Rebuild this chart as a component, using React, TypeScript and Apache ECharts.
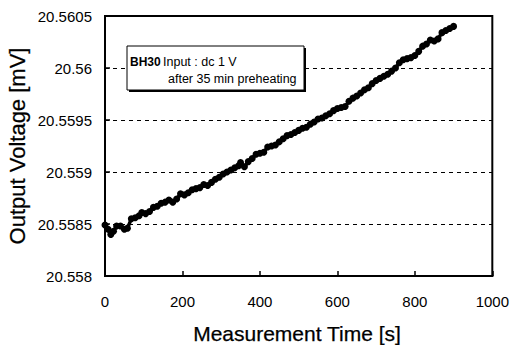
import React, { useEffect, useRef } from "react";
import * as echarts from "echarts";

const timeS: number[] = [
  0, 8, 15, 22, 30, 40, 50, 58, 68, 78, 88, 95, 105, 115, 125, 135, 145, 155, 165, 175,
  185, 195, 205, 215, 225, 235, 245, 255, 265, 275, 285, 295, 305, 315, 325, 335, 345, 350,
  360, 370, 380, 390, 400, 410, 420, 430, 440, 450, 460, 470, 480, 490, 500, 510, 520, 530,
  540, 550, 560, 570, 580, 590, 600, 610, 620, 630, 640, 650, 660, 670, 680, 690, 700, 710,
  720, 730, 740, 750, 760, 770, 780, 790, 800, 810, 820, 830, 840, 850, 860, 870, 880, 890, 900,
];

const voltageMV: number[] = [
  20.55849, 20.55845, 20.5584, 20.55843, 20.55848, 20.55848, 20.55845, 20.55846, 20.55855,
  20.55856, 20.55858, 20.55861, 20.5586, 20.55862, 20.55866, 20.55867, 20.5587, 20.55871,
  20.55873, 20.55871, 20.55874, 20.55879, 20.55878, 20.5588, 20.55883, 20.55884, 20.55885,
  20.55888, 20.55887, 20.5589, 20.55893, 20.55895, 20.55898, 20.559, 20.55902, 20.55904,
  20.55906, 20.55909, 20.55905, 20.5591, 20.55913, 20.55917, 20.55918, 20.55919, 20.55924,
  20.55925, 20.55926, 20.55929, 20.55932, 20.55935, 20.55936, 20.55938, 20.5594, 20.55942,
  20.55943, 20.55946, 20.55948, 20.55951, 20.55952, 20.55954, 20.55956, 20.55959, 20.55961,
  20.55962, 20.55963, 20.55968, 20.55971, 20.55973, 20.55976, 20.55979, 20.55981, 20.55985,
  20.55988, 20.5599, 20.55992, 20.55994, 20.55997, 20.56, 20.56005, 20.56008, 20.56009,
  20.5601, 20.56012, 20.56016, 20.56021, 20.56023, 20.56027, 20.56026, 20.56028, 20.56034,
  20.56036, 20.56038, 20.5604,
];

const xTitle = "Measurement Time [s]";
const yTitle = "Output Voltage [mV]";
const noteTag = "BH30";
const noteLine1 = "Input : dc 1 V";
const noteLine2 = "after 35 min preheating";

const FONT = "'Liberation Sans', Arial, sans-serif";

export default function App() {
  const ref = useRef<HTMLDivElement>(null);
  useEffect(() => {
    if (!ref.current) return;
    const chart = echarts.init(ref.current, undefined, { renderer: "svg" });
    const data = timeS.map((t, i) => [t, voltageMV[i]]);
    chart.setOption({
      animation: false,
      backgroundColor: "#fff",
      textStyle: { fontFamily: FONT },
      grid: {
        left: 105,
        right: 18,
        top: 16,
        bottom: 69,
        show: true,
        borderColor: "#000",
        borderWidth: 2,
        backgroundColor: "transparent",
      },
      xAxis: {
        type: "value",
        min: 0,
        max: 1000,
        interval: 200,
        axisLine: { show: true, lineStyle: { color: "#000", width: 2 } },
        axisTick: { show: true, inside: true, length: 5, lineStyle: { color: "#000", width: 1.5 } },
        axisLabel: {
          color: "#000",
          fontSize: 15,
          fontFamily: FONT,
          margin: 18,
          formatter: (v: number) => String(v),
        },
        splitLine: { show: false },
      },
      yAxis: {
        type: "value",
        min: 20.558,
        max: 20.5605,
        interval: 0.0005,
        axisLine: { show: true, lineStyle: { color: "#000", width: 2 } },
        axisTick: { show: true, inside: true, length: 5, lineStyle: { color: "#000", width: 1.5 } },
        axisLabel: {
          color: "#000",
          fontSize: 15,
          fontFamily: FONT,
          margin: 13,
          formatter: (v: number) => String(parseFloat(v.toFixed(4))),
        },
        splitLine: { show: true, lineStyle: { color: "#000", width: 1, type: [4, 4] } },
      },
      series: [
        {
          type: "line",
          data,
          symbol: "circle",
          symbolSize: 7,
          showSymbol: true,
          itemStyle: { color: "#000" },
          lineStyle: { color: "#000", width: 3.5 },
        },
      ],
      graphic: [
        {
          type: "text",
          x: 17,
          y: 146,
          rotation: Math.PI / 2,
          style: {
            text: yTitle,
            fill: "#000",
            stroke: "#000",
            lineWidth: 0.25,
            font: `22px ${FONT}`,
            textAlign: "center",
            textVerticalAlign: "middle",
          },
        },
        {
          type: "text",
          x: 297,
          y: 333,
          style: {
            text: xTitle,
            fill: "#000",
            stroke: "#000",
            lineWidth: 0.25,
            font: `21px ${FONT}`,
            textAlign: "center",
            textVerticalAlign: "middle",
          },
        },
        {
          type: "rect",
          shape: { x: 129, y: 48, width: 177, height: 44 },
          style: { fill: "#000" },
          z: 10,
        },
        {
          type: "rect",
          shape: { x: 127, y: 46, width: 177, height: 44 },
          style: { fill: "#fff", stroke: "#000", lineWidth: 1 },
          z: 11,
        },
        {
          type: "text",
          x: 130,
          y: 62,
          z: 12,
          style: {
            text: noteTag,
            fill: "#000",
            font: `bold 12px ${FONT}`,
            textAlign: "left",
            textVerticalAlign: "middle",
          },
        },
        {
          type: "text",
          x: 163,
          y: 62,
          z: 12,
          style: {
            text: noteLine1,
            fill: "#000",
            font: `12.5px ${FONT}`,
            textAlign: "left",
            textVerticalAlign: "middle",
          },
        },
        {
          type: "text",
          x: 168,
          y: 79,
          z: 12,
          style: {
            text: noteLine2,
            fill: "#000",
            font: `12.5px ${FONT}`,
            textAlign: "left",
            textVerticalAlign: "middle",
          },
        },
      ],
    });
    return () => chart.dispose();
  }, []);
  return (
    <div
      ref={ref}
      style={{ position: "fixed", left: 0, top: 0, width: 512, height: 345 }}
    />
  );
}
